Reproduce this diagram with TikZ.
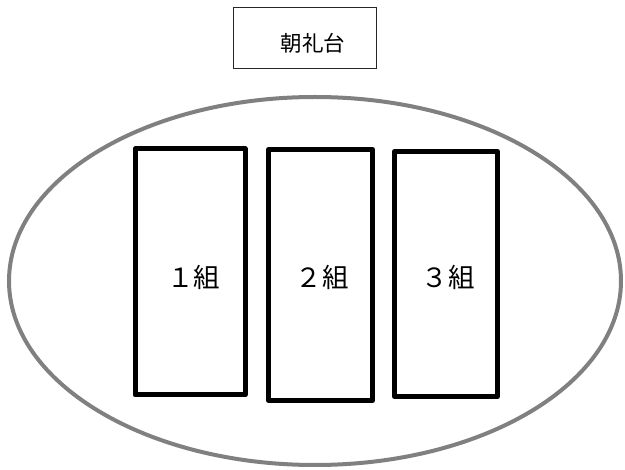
\documentclass[tikz,border=0pt]{standalone}
\usepackage{fontspec}
\setmainfont{Noto Sans CJK JP}
\usetikzlibrary{shapes.geometric}
\tikzset{
  classbox/.style={draw=black, line width=5pt, line join=round, fill=white, inner sep=0pt},
  classlabel/.style={font=\fontsize{26.5}{26.5}\selectfont, inner sep=0pt, text=black},
  stagebox/.style={draw=black!85, line width=1pt, inner sep=0pt},
  field/.style={draw=black!50, line width=4pt, ellipse, inner sep=0pt}
}
\begin{document}
\begin{tikzpicture}[x=1pt,y=-1pt]
\useasboundingbox (0,0) rectangle (625,470);
\node[field, minimum width=612pt, minimum height=368pt] (field) at (315,281) {};
\node[stagebox, minimum width=143pt, minimum height=61pt] (stage) at (305,38) {};
\node[font=\fontsize{21.5}{21.5}\selectfont, inner sep=0pt] (stagetxt) at (313,43) {朝礼台};
\node[classbox, minimum width=110pt, minimum height=246pt] (c1) at (190,272) {};
\node[classbox, minimum width=104pt, minimum height=251pt] (c2) at (320.5,275) {};
\node[classbox, minimum width=103pt, minimum height=245pt] (c3) at (446,274) {};
\node[classlabel] (t1) at (193.5,277) {１組};
\node[classlabel] (t2) at (322,277) {２組};
\node[classlabel] (t3) at (448,277) {３組};
\end{tikzpicture}
\end{document}
